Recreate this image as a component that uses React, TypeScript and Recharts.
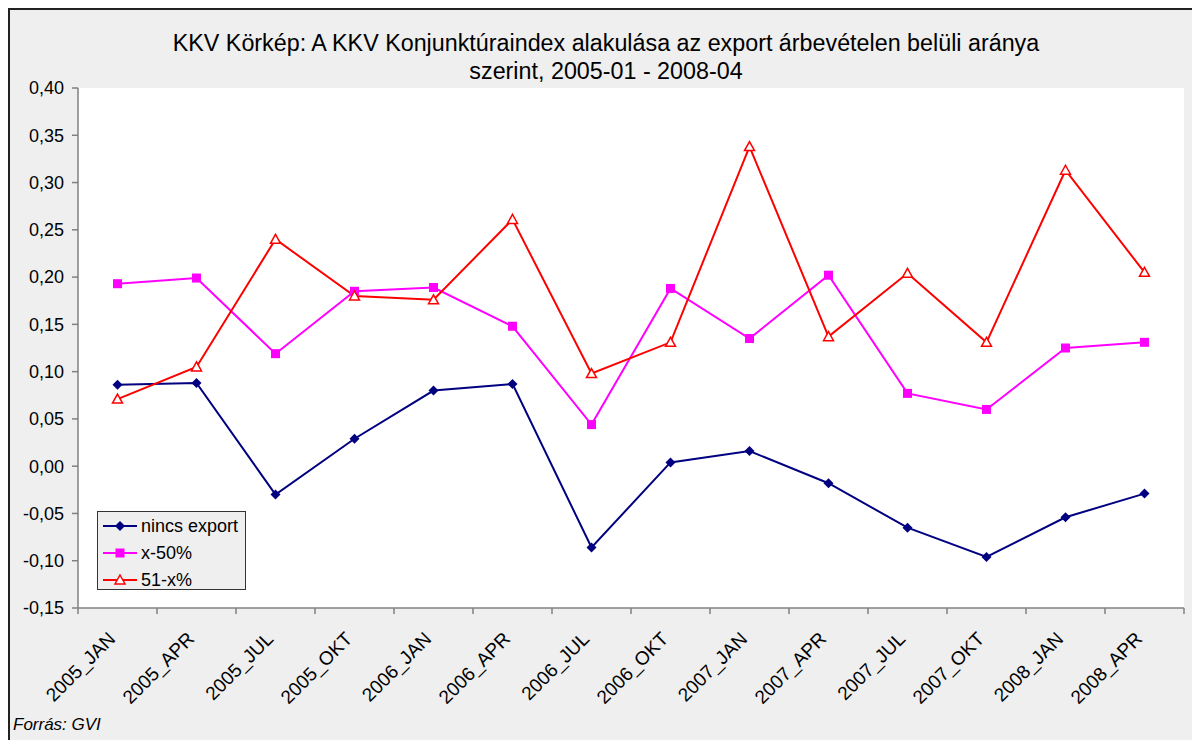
import React from 'react';
import { LineChart, Line, XAxis, YAxis, CartesianGrid } from 'recharts';

const categories = [
  '2005_JAN', '2005_APR', '2005_JUL', '2005_OKT',
  '2006_JAN', '2006_APR', '2006_JUL', '2006_OKT',
  '2007_JAN', '2007_APR', '2007_JUL', '2007_OKT',
  '2008_JAN', '2008_APR',
];
const nincsExport = [0.086, 0.088, -0.030, 0.029, 0.080, 0.087, -0.086, 0.004, 0.016, -0.018, -0.065, -0.096, -0.054, -0.029];
const x50 = [0.193, 0.199, 0.119, 0.185, 0.189, 0.148, 0.044, 0.188, 0.135, 0.202, 0.077, 0.060, 0.125, 0.131];
const x51 = [0.071, 0.105, 0.240, 0.180, 0.176, 0.261, 0.098, 0.131, 0.338, 0.137, 0.204, 0.131, 0.313, 0.205];
const yTicks = [-0.15, -0.1, -0.05, 0, 0.05, 0.1, 0.15, 0.2, 0.25, 0.3, 0.35, 0.4];

const data = categories.map((c, i) => ({ cat: c, a: nincsExport[i], b: x50[i], c: x51[i] }));

const FONT = '"Liberation Sans", Arial, sans-serif';
const CHART_W = 1192;
const CHART_H = 736;
const MARGIN = { top: 78, right: 18, bottom: 28, left: 0 };
const Y_W = 68;
const PLOT_W = CHART_W - MARGIN.left - MARGIN.right - Y_W;
const BAND = PLOT_W / categories.length;

const fmt = (v: number) => v.toFixed(2).replace('.', ',');

const Diamond = (p: any) => {
  const { cx, cy } = p;
  if (cx == null || cy == null) return <g key={p.key} />;
  return <path key={p.key} d={`M${cx} ${cy - 5}L${cx + 5} ${cy}L${cx} ${cy + 5}L${cx - 5} ${cy}Z`} fill="#000080" />;
};
const Square = (p: any) => {
  const { cx, cy } = p;
  if (cx == null || cy == null) return <g key={p.key} />;
  return <rect key={p.key} x={cx - 4.5} y={cy - 4.5} width={9} height={9} fill="#ff00ff" />;
};
const Tri = (p: any) => {
  const { cx, cy } = p;
  if (cx == null || cy == null) return <g key={p.key} />;
  return <path key={p.key} d={`M${cx} ${cy - 5}L${cx + 5} ${cy + 4}L${cx - 5} ${cy + 4}Z`} fill="#fff" stroke="#ff0000" strokeWidth={1.5} />;
};

const XTick = (p: any) => {
  const { x, y, payload, index } = p;
  const last = index === categories.length - 1;
  const tx = x - 1;
  const ty = y + 32;
  return (
    <g>
      <line x1={x - BAND / 2} y1={y} x2={x - BAND / 2} y2={y + 6} stroke="#808080" strokeWidth={1.5} />
      {last && <line x1={x + BAND / 2} y1={y} x2={x + BAND / 2} y2={y + 6} stroke="#808080" strokeWidth={1.5} />}
      <text
        x={tx}
        y={ty}
        textAnchor="end"
        transform={`rotate(-45 ${tx} ${ty})`}
        fontSize={19}
        fontFamily={FONT}
        fill="#000"
      >
        {payload.value}
      </text>
    </g>
  );
};

const legendItems = [
  { name: 'nincs export', color: '#000080', Shape: Diamond },
  { name: 'x-50%', color: '#ff00ff', Shape: Square },
  { name: '51-x%', color: '#ff0000', Shape: Tri },
];

const LegendBox = () => (
  <div
    style={{
      position: 'absolute', left: 87, top: 501, width: 149, height: 79, boxSizing: 'border-box',
      border: '1px solid #333', background: '#efefef', fontFamily: FONT, fontSize: 18,
    }}
  >
    {legendItems.map((it, i) => (
      <div key={it.name} style={{ position: 'absolute', left: 4, top: 2 + i * 27, height: 24, display: 'flex', alignItems: 'center' }}>
        <svg width={36} height={24}>
          <line x1={1} y1={12} x2={35} y2={12} stroke={it.color} strokeWidth={2} />
          <it.Shape cx={18} cy={12} />
        </svg>
        <span style={{ marginLeft: 3 }}>{it.name}</span>
      </div>
    ))}
  </div>
);

export default function App() {
  return (
    <div
      style={{
        position: 'relative', width: 1196, height: 740, boxSizing: 'border-box',
        border: '2px solid #222', background: '#efefef', fontFamily: FONT,
      }}
    >
      <div style={{ position: 'absolute', left: 0, top: 19, width: CHART_W, textAlign: 'center', fontSize: 23.3, lineHeight: '28px', color: '#000' }}>
        KKV Körkép: A KKV Konjunktúraindex alakulása az export árbevételen belüli aránya
        <br />
        szerint, 2005-01 - 2008-04
      </div>
      <LineChart width={CHART_W} height={CHART_H} data={data} margin={MARGIN}>
        <CartesianGrid horizontal={false} vertical={false} fill="#ffffff" />
        <XAxis
          dataKey="cat"
          scale="band"
          interval={0}
          height={110}
          tickSize={0}
          tickMargin={0}
          tickLine={false}
          axisLine={{ stroke: '#808080', strokeWidth: 1.5 }}
          tick={<XTick />}
        />
        <YAxis
          domain={[-0.15, 0.4]}
          ticks={yTicks}
          width={Y_W}
          tickFormatter={fmt}
          tickSize={6}
          tickMargin={8}
          axisLine={{ stroke: '#808080', strokeWidth: 1.5 }}
          tickLine={{ stroke: '#808080', strokeWidth: 1.5 }}
          tick={{ fill: '#000', fontSize: 18, fontFamily: FONT }}
          allowDataOverflow
        />
        <Line dataKey="a" name="nincs export" stroke="#000080" strokeWidth={2} dot={(p: any) => <Diamond {...p} key={`a${p.index}`} />} isAnimationActive={false} />
        <Line dataKey="b" name="x-50%" stroke="#ff00ff" strokeWidth={2} dot={(p: any) => <Square {...p} key={`b${p.index}`} />} isAnimationActive={false} />
        <Line dataKey="c" name="51-x%" stroke="#ff0000" strokeWidth={2} dot={(p: any) => <Tri {...p} key={`c${p.index}`} />} isAnimationActive={false} />
      </LineChart>
      <LegendBox />
      <div style={{ position: 'absolute', left: 3, top: 705, fontSize: 17, fontStyle: 'italic', color: '#000' }}>Forrás: GVI</div>
    </div>
  );
}
